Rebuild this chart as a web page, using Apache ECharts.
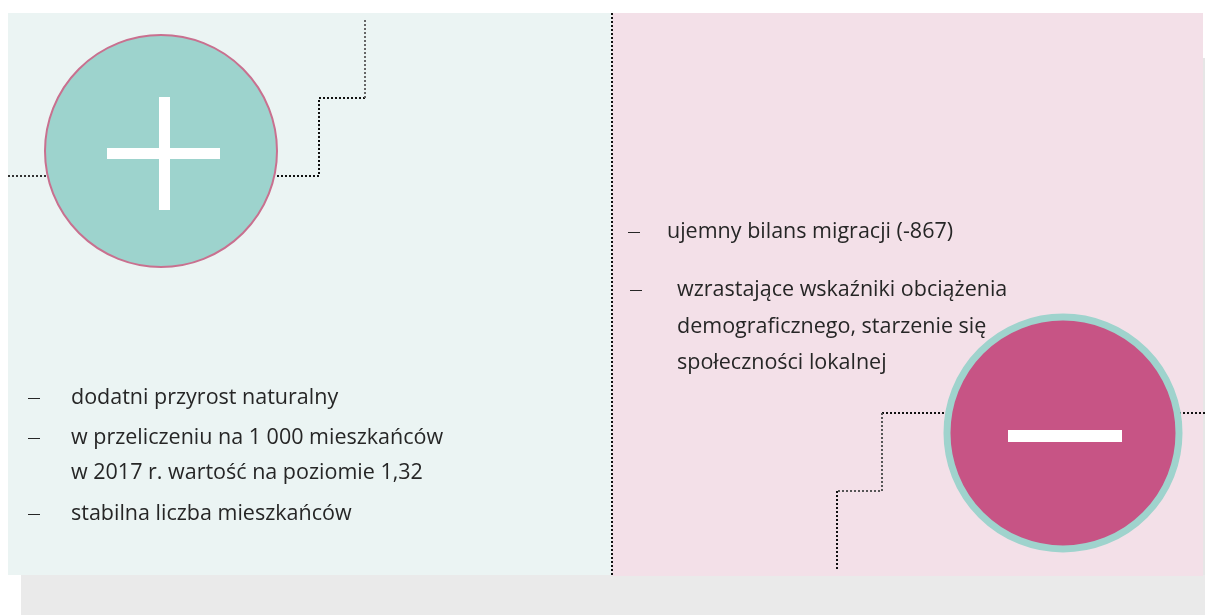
<!DOCTYPE html>
<html>
<head>
<meta charset="utf-8">
<script src="https://cdn.jsdelivr.net/npm/echarts@6/dist/echarts.min.js"></script>
<style>
    html, body { margin: 0; padding: 0; background: #fff; }
    #chart { width: 1205px; height: 615px; }
</style>
</head>
<body>
<div id="chart"></div>
<script>
// bullet texts (each entry = one bullet, inner arrays = wrapped lines)
var plusItems = [
    ['dodatni przyrost naturalny'],
    ['w przeliczeniu na 1 000 mieszkańców', 'w 2017 r. wartość na poziomie 1,32'],
    ['stabilna liczba mieszkańców']
];
var minusItems = [
    ['ujemny bilans migracji (-867)'],
    ['wzrastające wskaźniki obciążenia', 'demograficznego, starzenie się', 'społeczności lokalnej']
];

var chart = echarts.init(document.getElementById('chart'));

var FONT = '400 21.5px "Open Sans", Lato, sans-serif';
var TEXT_COLOR = '#262626';

function dotted(points, color) {
    return {
        type: 'polyline',
        shape: { points: points },
        style: { stroke: color || '#111', lineWidth: 2, lineDash: [2, 2], fill: null },
        z: 2
    };
}

function bulletList(items, dashX, textX, ys) {
    let els = [];
    let k = 0;
    items.forEach(function(lines, i) {
        lines.forEach(function(line, j) {
            let y = ys[k++];
            if (j == 0) {
                els.push({
                    type: 'rect', z: 10,
                    shape: { x: dashX[i], y: y, width: 12, height: 1 },
                    style: { fill: TEXT_COLOR }
                });
            }
            els.push({
                type: 'text', z: 10,
                style: { x: textX[i], y: y, text: line, font: FONT, fill: TEXT_COLOR, textVerticalAlign: 'middle' }
            });
        });
    });
    return els;
}

var elements = [
    // panels
    { type: 'rect', shape: { x: 21, y: 575, width: 1184, height: 40 }, style: { fill: '#eaeaea' } },
    { type: 'rect', shape: { x: 1203, y: 58, width: 2, height: 517 }, style: { fill: '#e6e6e6' } },
    { type: 'rect', shape: { x: 8, y: 13, width: 604, height: 562 }, style: { fill: '#ebf4f3' } },
    { type: 'rect', shape: { x: 612, y: 13, width: 591, height: 563 }, style: { fill: '#f3e0e8' } },

    // divider
    dotted([[612, 13], [612, 576]], '#111'),

    // left steps
    dotted([[8, 176], [46, 176]], '#333'),
    dotted([[273, 176], [319, 176], [319, 98], [365, 98]], '#111'),
    dotted([[365, 98], [365, 19]], '#666'),

    // right steps
    dotted([[882, 413], [945, 413]], '#111'),
    dotted([[1179, 413], [1205, 413]], '#111'),
    dotted([[882, 413], [882, 491], [837, 491]], '#555'),
    dotted([[837, 491], [837, 569]], '#111'),

    // plus circle
    { type: 'circle', z: 5, shape: { cx: 161, cy: 151, r: 116 }, style: { fill: '#9dd3cd', stroke: '#c9708f', lineWidth: 2 } },
    { type: 'rect', z: 6, shape: { x: 159, y: 97, width: 11, height: 113 }, style: { fill: '#fff' } },
    { type: 'rect', z: 6, shape: { x: 107, y: 148, width: 113, height: 11 }, style: { fill: '#fff' } },

    // minus circle
    { type: 'circle', z: 5, shape: { cx: 1063, cy: 433, r: 116 }, style: { fill: '#c75485', stroke: '#9fd3cd', lineWidth: 7 } },
    { type: 'rect', z: 6, shape: { x: 1008, y: 430, width: 114, height: 12 }, style: { fill: '#fff' } }
];

elements = elements.concat(bulletList(plusItems, [28, 28, 28], [71, 71, 71], [398, 438, 473, 514]));
elements = elements.concat(bulletList(minusItems, [628, 630], [667, 677], [232, 290, 327, 363]));

chart.setOption({
    animation: false,
    graphic: { elements: elements }
});
</script>
</body>
</html>
